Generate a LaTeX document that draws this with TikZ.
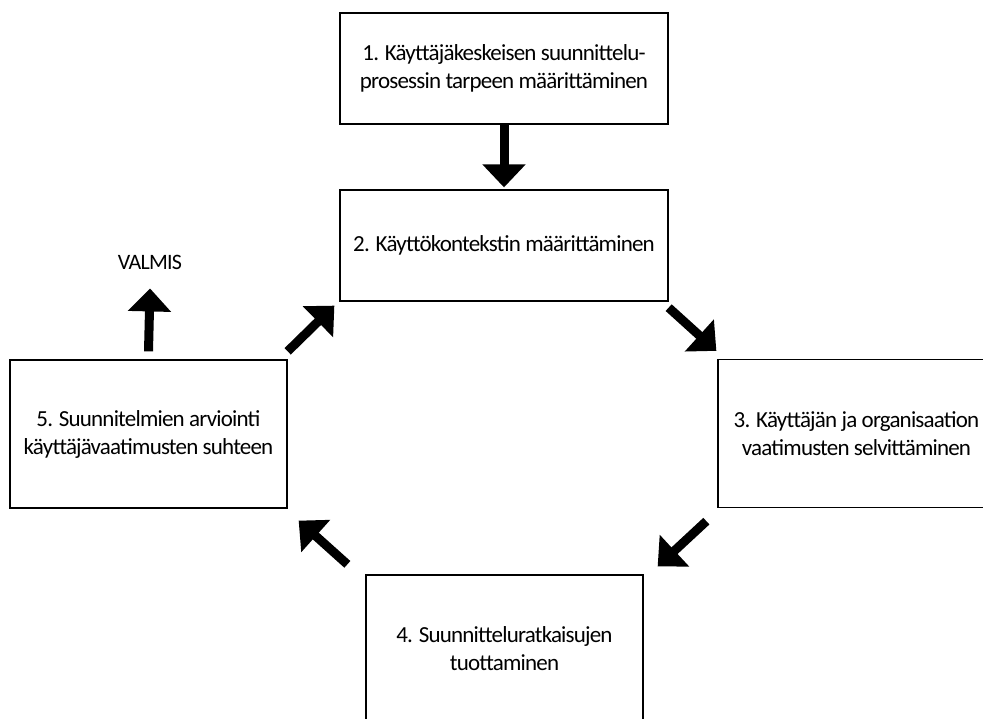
\documentclass[tikz,border=0pt]{standalone}
\usepackage{fontspec}
\setmainfont{Carlito}[LetterSpace=-3.5]
\usetikzlibrary{arrows.meta}

\tikzset{
  vaihe/.style={draw, line width=1.3pt, minimum width=328pt, minimum height=111pt, inner sep=0pt, align=center, font=\fontsize{23}{28}\selectfont},
  vaihepieni/.style={vaihe, minimum width=277pt, minimum height=148pt},
  nuoli/.style={line width=9pt, -{Triangle[width=42pt,length=23pt]}}
}

\begin{document}
\begin{tikzpicture}[x=1pt, y=-1pt]
  % 1. kuvan rajat
  \useasboundingbox (0,0) rectangle (983,718);

  % 2. vaiheiden laatikot
  \node[vaihe] (b1) at (504,68.5) {1. Käyttäjäkeskeisen suunnittelu-\\prosessin tarpeen määrittäminen};
  \node[vaihe] (b2) at (504,245.5) {2. Käyttökontekstin määrittäminen};
  \node[vaihepieni] (b3) at (856.5,433.5) {3. Käyttäjän ja organisaation\\vaatimusten selvittäminen};
  \node[vaihepieni] (b4) at (504.5,649) {4. Suunnitteluratkaisujen\\tuottaminen};
  \node[vaihepieni] (b5) at (148.5,434) {5. Suunnitelmien arviointi\\käyttäjävaatimusten suhteen};

  % 3. lopputila
  \node[inner sep=0pt, font=\fontsize{22}{24}\selectfont] (valmis) at (150,262) {VALMIS};

  % 4. nuolet
  \draw[nuoli] (b1.south) -- ([yshift=2pt]b2.north);
  \draw[nuoli] ([yshift=-6pt]b2.south east) -- ([xshift=-1pt, yshift=8pt]b3.north west);
  \draw[nuoli] ([xshift=-11pt, yshift=-13pt]b3.south west) -- ([xshift=14pt, yshift=8pt]b4.north east);
  \draw[nuoli] ([xshift=-18pt, yshift=10pt]b4.north west) -- ([xshift=11pt, yshift=-12pt]b5.south east);
  \draw[nuoli] ([yshift=8pt]b5.north east) -- ([xshift=-5pt, yshift=-4pt]b2.south west);
  \draw[nuoli] ([yshift=8pt]b5.north) -- ([yshift=-19pt]valmis.south);
\end{tikzpicture}
\end{document}
